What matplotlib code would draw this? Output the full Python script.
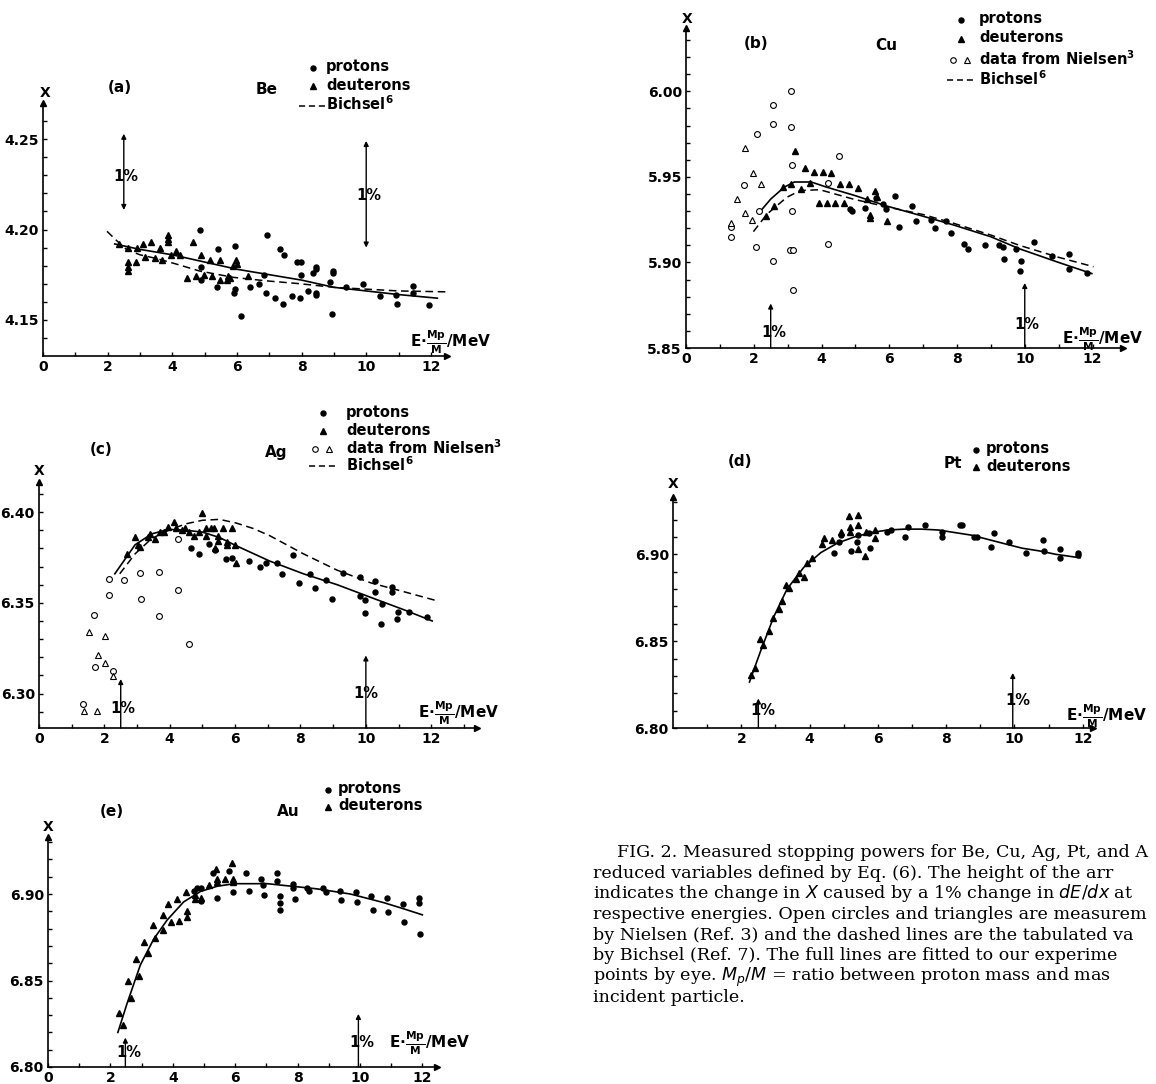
import matplotlib.pyplot as plt
import numpy as np
from matplotlib.lines import Line2D

W, H = 1156, 1084

# ---- (a) Be ----
be_prot_e = [4.85, 5.42, 5.93, 6.93, 7.33, 7.46, 7.87, 7.98, 8.46, 8.46, 8.96, 8.96, 7.97, 8.36,
             6.83, 4.88, 4.88, 5.37, 5.91, 5.94, 6.40, 6.67, 6.91, 7.18, 7.43, 7.69, 7.95, 8.20,
             8.44, 8.44, 8.87, 9.39, 9.91, 10.42, 10.92, 10.94, 11.45, 11.45, 11.95, 6.12, 8.95]
be_prot_x = [4.200, 4.189, 4.191, 4.197, 4.189, 4.186, 4.182, 4.182, 4.179, 4.178, 4.177, 4.176,
             4.175, 4.176, 4.175, 4.179, 4.172, 4.168, 4.165, 4.167, 4.168, 4.170, 4.165, 4.162,
             4.159, 4.163, 4.162, 4.166, 4.165, 4.164, 4.171, 4.168, 4.170, 4.163, 4.164, 4.159,
             4.169, 4.165, 4.158, 4.152, 4.153]
be_deut_e = [2.34, 2.63, 2.63, 2.63, 2.63, 2.87, 2.92, 3.10, 3.17, 3.35, 3.46, 3.61, 3.68, 3.87,
             3.87, 3.87, 3.97, 4.13, 4.23, 4.46, 4.65, 4.73, 4.90, 4.97, 5.16, 5.23, 5.47, 5.47,
             5.68, 5.73, 5.78, 5.88, 5.98, 6.00, 6.35]
be_deut_x = [4.192, 4.190, 4.182, 4.179, 4.177, 4.182, 4.190, 4.192, 4.185, 4.193, 4.184, 4.190,
             4.183, 4.197, 4.195, 4.193, 4.186, 4.188, 4.186, 4.173, 4.193, 4.174, 4.186, 4.175,
             4.183, 4.174, 4.183, 4.172, 4.172, 4.174, 4.173, 4.180, 4.183, 4.181, 4.174]
be_fit_e = [2.22, 3.0, 4.0, 5.0, 6.0, 7.0, 8.0, 9.0, 10.0, 11.0, 12.2]
be_fit_x = [4.192, 4.189, 4.186, 4.182, 4.178, 4.175, 4.172, 4.168, 4.166, 4.164, 4.162]
be_bich_e = [1.98, 2.27, 2.58, 3.0, 3.5, 4.1, 4.85, 5.9, 6.9, 7.95, 9.0, 10.0, 11.0, 12.5]
be_bich_x = [4.199, 4.194, 4.189, 4.186, 4.184, 4.181, 4.177, 4.1735, 4.1716, 4.170, 4.168,
             4.167, 4.166, 4.1655]

# ---- (b) Cu ----
cu_prot_e = [4.84, 4.91, 5.28, 5.60, 5.82, 5.89, 6.16, 6.29, 6.67, 6.80, 7.22, 7.34, 7.68, 7.83,
             8.20, 8.32, 8.84, 9.25, 9.35, 9.38, 9.75, 9.89, 9.87, 10.28, 10.80, 11.31, 11.30, 11.85]
cu_prot_x = [5.9315, 5.930, 5.932, 5.9375, 5.934, 5.9315, 5.939, 5.921, 5.933, 5.924, 5.925,
             5.920, 5.924, 5.917, 5.911, 5.908, 5.910, 5.910, 5.909, 5.902, 5.908, 5.901, 5.895,
             5.912, 5.904, 5.905, 5.896, 5.894]
cu_deut_e = [2.36, 2.60, 2.86, 3.10, 3.22, 3.40, 3.52, 3.66, 3.79, 3.93, 4.03, 4.15, 4.28, 4.40,
             4.56, 4.66, 4.82, 5.08, 5.34, 5.44, 5.44, 5.59, 5.65, 5.93]
cu_deut_x = [5.927, 5.933, 5.944, 5.946, 5.965, 5.943, 5.955, 5.9465, 5.953, 5.935, 5.953, 5.935,
             5.952, 5.935, 5.946, 5.935, 5.946, 5.9435, 5.937, 5.928, 5.926, 5.942, 5.938, 5.924]
cu_niel_circ_e = [1.34, 1.34, 1.70, 2.09, 2.07, 2.16, 2.58, 2.58, 2.58, 3.10, 3.09, 3.14, 3.13,
                  3.07, 3.17, 3.17, 4.18, 4.18, 4.52]
cu_niel_circ_x = [5.921, 5.915, 5.945, 5.975, 5.909, 5.930, 5.992, 5.981, 5.901, 6.000, 5.979,
                  5.957, 5.930, 5.907, 5.907, 5.884, 5.9465, 5.911, 5.962]
cu_niel_tri_e = [1.34, 1.52, 1.75, 1.73, 1.97, 1.95, 2.22]
cu_niel_tri_x = [5.923, 5.937, 5.967, 5.929, 5.952, 5.925, 5.946]
cu_fit_e = [2.2, 2.5, 2.9, 3.2, 3.7, 4.15, 5.0, 5.92, 7.0, 7.88, 9.0, 9.84, 11.0, 11.98]
cu_fit_x = [5.930, 5.937, 5.944, 5.947, 5.947, 5.944, 5.939, 5.933, 5.927, 5.922, 5.915, 5.908,
            5.900, 5.8935]
cu_bich_e = [1.99, 2.38, 2.97, 3.37, 3.95, 4.94, 5.92, 7.0, 7.88, 9.0, 9.84, 11.0, 12.03]
cu_bich_x = [5.918, 5.928, 5.938, 5.942, 5.9425, 5.937, 5.9325, 5.928, 5.923, 5.916, 5.910,
             5.903, 5.8975]

# ---- (c) Ag ----
ag_prot_e = [4.64, 4.88, 5.21, 5.39, 5.72, 5.91, 6.42, 6.75, 6.96, 7.27, 7.44, 7.76, 7.94, 8.30,
             8.45, 8.78, 8.97, 9.30, 9.81, 9.81, 9.98, 9.98, 10.29, 10.29, 10.48, 10.46, 10.80,
             10.80, 10.98, 10.96, 11.32, 11.86]
ag_prot_x = [6.380, 6.377, 6.3825, 6.379, 6.374, 6.3745, 6.373, 6.3695, 6.372, 6.372, 6.366,
             6.3765, 6.361, 6.366, 6.358, 6.3625, 6.352, 6.3665, 6.3645, 6.354, 6.3515, 6.3445,
             6.362, 6.356, 6.3495, 6.3385, 6.3585, 6.356, 6.345, 6.341, 6.345, 6.342]
ag_deut_e = [2.68, 2.94, 3.04, 3.09, 3.32, 3.41, 3.56, 3.71, 3.81, 3.94, 4.12, 4.20, 4.38, 4.48,
             4.59, 4.74, 4.90, 4.98, 5.10, 5.10, 5.26, 5.36, 5.39, 5.49, 5.49, 5.62, 5.74, 5.75,
             5.89, 6.01, 6.03]
ag_deut_x = [6.377, 6.3865, 6.382, 6.3805, 6.3865, 6.388, 6.385, 6.389, 6.389, 6.392, 6.3945,
             6.3915, 6.390, 6.3915, 6.389, 6.387, 6.389, 6.3995, 6.387, 6.3915, 6.391, 6.391,
             6.380, 6.387, 6.384, 6.391, 6.382, 6.3835, 6.391, 6.382, 6.372]
ag_niel_circ_e = [1.35, 1.68, 1.70, 2.13, 2.13, 2.27, 2.60, 3.09, 3.12, 3.66, 3.66, 4.26, 4.26,
                  4.59]
ag_niel_circ_x = [6.2945, 6.3435, 6.3145, 6.363, 6.3545, 6.3125, 6.3625, 6.3665, 6.352, 6.367,
                  6.343, 6.385, 6.357, 6.3275]
ag_niel_tri_e = [1.39, 1.53, 1.77, 1.82, 2.01, 2.03, 2.27]
ag_niel_tri_x = [6.2905, 6.334, 6.2905, 6.3215, 6.3315, 6.317, 6.3095]
ag_fit_e = [2.32, 2.94, 3.45, 3.97, 4.48, 5.0, 5.52, 6.03, 7.06, 8.09, 9.12, 10.15, 11.19, 12.03]
ag_fit_x = [6.366, 6.382, 6.388, 6.3905, 6.390, 6.389, 6.386, 6.3815, 6.373, 6.366, 6.360,
            6.353, 6.346, 6.340]
ag_bich_e = [2.47, 2.94, 3.45, 3.97, 4.48, 5.0, 5.52, 6.03, 6.55, 7.06, 8.09, 9.12, 10.15, 11.19,
             12.2]
ag_bich_x = [6.366, 6.377, 6.3855, 6.390, 6.3935, 6.3955, 6.396, 6.394, 6.391, 6.387, 6.377,
             6.368, 6.361, 6.356, 6.351]

# ---- (d) Pt ----
pt_prot_e = [4.72, 4.87, 4.92, 5.21, 5.38, 5.41, 5.77, 5.75, 6.26, 6.37, 6.78, 6.88, 7.37, 7.89,
             7.89, 8.41, 8.46, 8.82, 8.90, 9.32, 9.39, 9.83, 10.35, 10.85, 10.87, 11.34, 11.34,
             11.85, 11.85]
pt_prot_x = [6.9005, 6.907, 6.911, 6.902, 6.907, 6.911, 6.9035, 6.912, 6.913, 6.914, 6.910,
             6.916, 6.917, 6.910, 6.913, 6.917, 6.917, 6.910, 6.910, 6.9045, 6.912, 6.907, 6.9005,
             6.908, 6.902, 6.903, 6.898, 6.9005, 6.8995]
pt_deut_e = [2.29, 2.40, 2.56, 2.65, 2.80, 2.92, 3.09, 3.19, 3.32, 3.41, 3.59, 3.69, 3.84, 3.91,
             4.08, 4.36, 4.41, 4.67, 4.92, 5.14, 5.19, 5.19, 5.41, 5.43, 5.41, 5.65, 5.63, 5.92,
             5.92]
pt_deut_x = [6.8305, 6.8345, 6.851, 6.848, 6.856, 6.8635, 6.8685, 6.873, 6.8825, 6.8805, 6.8855,
             6.889, 6.887, 6.895, 6.898, 6.906, 6.9095, 6.9085, 6.913, 6.922, 6.916, 6.913, 6.9225,
             6.917, 6.903, 6.913, 6.899, 6.914, 6.9095]
pt_fit_e = [2.24, 2.56, 2.95, 3.34, 3.83, 4.33, 4.82, 5.31, 5.80, 6.29, 6.78, 7.28, 7.77, 8.26,
            8.75, 9.24, 9.73, 10.23, 10.72, 11.21, 11.92]
pt_fit_x = [6.8265, 6.844, 6.864, 6.880, 6.8925, 6.901, 6.9065, 6.910, 6.9125, 6.914, 6.9145,
            6.9145, 6.914, 6.9125, 6.911, 6.9085, 6.906, 6.9035, 6.902, 6.900, 6.898]

# ---- (e) Au ----
au_prot_e = [4.67, 4.78, 4.89, 4.92, 5.28, 5.42, 5.81, 5.93, 6.35, 6.45, 6.84, 6.89, 6.94, 7.33,
             7.33, 7.43, 7.43, 7.43, 7.85, 7.85, 7.91, 8.31, 8.36, 8.82, 8.90, 9.35, 9.38, 9.86,
             9.91, 10.36, 10.42, 10.88, 10.90, 11.39, 11.41, 11.89, 11.89, 11.92]
au_prot_x = [6.902, 6.9035, 6.896, 6.9035, 6.912, 6.898, 6.9135, 6.901, 6.912, 6.902, 6.9085,
             6.905, 6.8995, 6.912, 6.9075, 6.899, 6.895, 6.891, 6.906, 6.9035, 6.897, 6.9035,
             6.902, 6.9035, 6.901, 6.902, 6.8965, 6.901, 6.8955, 6.899, 6.8905, 6.898, 6.8895,
             6.8945, 6.884, 6.898, 6.895, 6.877]
au_deut_e = [2.29, 2.39, 2.56, 2.67, 2.82, 2.93, 3.07, 3.20, 3.35, 3.44, 3.68, 3.69, 3.85, 3.95,
             4.12, 4.21, 4.41, 4.44, 4.44, 4.70, 4.71, 4.92, 5.16, 5.37, 5.42, 5.42, 5.67, 5.90,
             5.94, 5.94]
au_deut_x = [6.831, 6.8245, 6.8495, 6.840, 6.8625, 6.8525, 6.8725, 6.866, 6.882, 6.8745, 6.888,
             6.8795, 6.8945, 6.884, 6.897, 6.8845, 6.901, 6.890, 6.887, 6.897, 6.8995, 6.898,
             6.905, 6.9145, 6.909, 6.907, 6.909, 6.918, 6.909, 6.907]
au_fit_e = [2.24, 2.53, 2.96, 3.39, 3.82, 4.35, 4.89, 5.42, 5.96, 6.49, 7.03, 7.56, 8.10, 8.63,
            9.17, 9.70, 10.24, 10.77, 11.31, 12.0]
au_fit_x = [6.820, 6.8365, 6.859, 6.874, 6.885, 6.8955, 6.9015, 6.9045, 6.906, 6.906, 6.906,
            6.905, 6.904, 6.903, 6.9015, 6.900, 6.8975, 6.895, 6.892, 6.888]

caption_lines = [
    "FIG. 2. Measured stopping powers for Be, Cu, Ag, Pt, and A",
    "reduced variables defined by Eq. (6). The height of the arr",
    r"indicates the change in $\mathit{X}$ caused by a 1% change in $\mathit{dE/dx}$ at",
    "respective energies. Open circles and triangles are measurem",
    "by Nielsen (Ref. 3) and the dashed lines are the tabulated va",
    "by Bichsel (Ref. 7). The full lines are fitted to our experime",
    r"points by eye. $\mathit{M_p/M}$ = ratio between proton mass and mas",
    "incident particle.",
]

plt.rcParams['font.family'] = 'DejaVu Sans'
plt.rcParams['mathtext.default'] = 'regular'

fig = plt.figure(figsize=(W / 100, H / 100), dpi=100)
fig.patch.set_facecolor('white')

XLAB = r"E$\cdot\frac{Mp}{M}$/MeV"


def fx(x):
    return x / W


def fy(y):
    return 1 - y / H


def make_axes(left, top, right, bottom, xlim, ylim, yticks, xticks):
    ax = fig.add_axes([fx(left), fy(bottom), (right - left) / W, (bottom - top) / H])
    ax.set_xlim(*xlim)
    ax.set_ylim(*ylim)
    ax.spines[['top', 'right']].set_visible(False)
    ax.spines[['left', 'bottom']].set_linewidth(1.2)
    ax.set_xticks(xticks)
    ax.set_xticklabels([str(t) for t in xticks], fontweight='bold')
    ax.set_xticks(np.arange(1, int(xlim[1]) + 1), minor=True)
    ax.set_yticks(yticks)
    ax.set_yticklabels([f"{t:.2f}" for t in yticks], fontweight='bold')
    ax.set_yticks(np.round(np.arange(ylim[0], ylim[1], 0.01), 2)[1:], minor=True)
    ax.tick_params(which='both', direction='in', length=3, width=1, labelsize=10, pad=3)
    ax.plot(1, 0, '>', color='k', ms=4, transform=ax.transAxes, clip_on=False)
    ax.plot(0, 1, '^', color='k', ms=4, transform=ax.transAxes, clip_on=False)
    ax.patch.set_alpha(0)
    return ax


def points(ax, e, x, kind):
    if kind == 'p':
        ax.plot(e, x, 'o', color='k', ms=3.6, ls='none', clip_on=False)
    elif kind == 'd':
        ax.plot(e, x, '^', color='k', ms=4.3, ls='none', clip_on=False)
    elif kind == 'nc':
        ax.plot(e, x, 'o', mfc='white', mec='k', mew=0.8, ms=4.2, ls='none', clip_on=False)
    else:
        ax.plot(e, x, '^', mfc='white', mec='k', mew=0.8, ms=4.4, ls='none', clip_on=False)


def arrow(ax, e, y0, y1, both=False):
    ax.annotate('', xy=(e, y1), xytext=(e, y0),
                arrowprops=dict(arrowstyle='<|-|>' if both else '-|>', color='k', lw=1.0,
                                mutation_scale=7, shrinkA=0, shrinkB=0))


def pct(ax, e, y):
    ax.text(e, y, "1%", ha='center', va='center', fontsize=10.5, fontweight='bold')


def legend_item(x, y, kind):
    if kind == 'p':
        fig.add_artist(Line2D([fx(x)], [fy(y)], marker='o', color='k', ms=3.6,
                              transform=fig.transFigure))
    elif kind == 'd':
        fig.add_artist(Line2D([fx(x)], [fy(y)], marker='^', color='k', ms=4.3,
                              transform=fig.transFigure))
    elif kind == 'n':
        fig.add_artist(Line2D([fx(x - 8)], [fy(y)], marker='o', mfc='white', mec='k', mew=0.8,
                              ms=4, transform=fig.transFigure))
        fig.add_artist(Line2D([fx(x + 6)], [fy(y)], marker='^', mfc='white', mec='k', mew=0.8,
                              ms=4.2, transform=fig.transFigure))
    else:
        fig.add_artist(Line2D([fx(x - 14), fx(x + 14)], [fy(y), fy(y)], color='k', lw=1.1,
                              ls=(0, (4, 2.5)), transform=fig.transFigure))


def ftext(x, y, s, size=10.5, ha='left'):
    fig.text(fx(x), fy(y), s, ha=ha, va='center', fontsize=size, fontweight='bold')


# (a) Be
ax = make_axes(43, 103, 447, 356, (0, 12.5), (4.13, 4.27), [4.15, 4.20, 4.25],
               [0, 2, 4, 6, 8, 10, 12])
ax.plot(be_bich_e, be_bich_x, color='k', lw=1.1, ls=(0, (5, 3)))
ax.plot(be_fit_e, be_fit_x, color='k', lw=1.2)
points(ax, be_prot_e, be_prot_x, 'p')
points(ax, be_deut_e, be_deut_x, 'd')
arrow(ax, 2.5, 4.2108, 4.253, both=True)
arrow(ax, 10.0, 4.190, 4.249, both=True)
pct(ax, 2.55, 4.2295)
pct(ax, 10.08, 4.219)
ftext(410, 342, XLAB, 11)
ftext(45, 93, "X", 10, 'center')
ftext(108, 88, "(a)", 11)
ftext(256, 90, "Be", 11)
legend_item(313, 68, 'p')
ftext(326, 67, "protons")
legend_item(313, 86, 'd')
ftext(326, 86, "deuterons")
legend_item(313, 106, 'b')
ftext(326, 104, "Bichsel$^{6}$")

# (b) Cu
ax = make_axes(686, 28, 1123, 348, (0, 12.9), (5.85, 6.037), [5.85, 5.90, 5.95, 6.00],
               [0, 2, 4, 6, 8, 10, 12])
ax.plot(cu_bich_e, cu_bich_x, color='k', lw=1.1, ls=(0, (5, 3)))
ax.plot(cu_fit_e, cu_fit_x, color='k', lw=1.2)
points(ax, cu_niel_circ_e, cu_niel_circ_x, 'nc')
points(ax, cu_niel_tri_e, cu_niel_tri_x, 'nt')
points(ax, cu_prot_e, cu_prot_x, 'p')
points(ax, cu_deut_e, cu_deut_x, 'd')
arrow(ax, 2.5, 5.85, 5.876)
arrow(ax, 10.0, 5.85, 5.888)
pct(ax, 2.6, 5.859)
pct(ax, 10.05, 5.864)
ftext(1062, 339, XLAB, 11)
ftext(687, 19, "X", 10, 'center')
ftext(744, 44, "(b)", 11)
ftext(875, 45, "Cu", 11)
legend_item(961, 20, 'p')
ftext(979, 19, "protons")
legend_item(961, 39, 'd')
ftext(979, 38, "deuterons")
legend_item(961, 60, 'n')
ftext(979, 59, "data from Nielsen$^{3}$")
legend_item(961, 80, 'b')
ftext(979, 79, "Bichsel$^{6}$")

# (c) Ag
ax = make_axes(39, 482, 477, 728, (0, 13.4), (6.281, 6.4166), [6.30, 6.35, 6.40],
               [0, 2, 4, 6, 8, 10, 12])
ax.plot(ag_bich_e, ag_bich_x, color='k', lw=1.1, ls=(0, (5, 3)))
ax.plot(ag_fit_e, ag_fit_x, color='k', lw=1.2)
points(ax, ag_niel_circ_e, ag_niel_circ_x, 'nc')
points(ax, ag_niel_tri_e, ag_niel_tri_x, 'nt')
points(ax, ag_prot_e, ag_prot_x, 'p')
points(ax, ag_deut_e, ag_deut_x, 'd')
arrow(ax, 2.5, 6.281, 6.308)
arrow(ax, 10.0, 6.281, 6.321)
pct(ax, 2.55, 6.292)
pct(ax, 10.0, 6.300)
ftext(418, 713, XLAB, 11)
ftext(39, 471, "X", 10, 'center')
ftext(90, 450, "(c)", 11)
ftext(265, 452, "Ag", 11)
legend_item(323, 413, 'p')
ftext(346, 412, "protons")
legend_item(323, 431, 'd')
ftext(346, 430, "deuterons")
legend_item(323, 449, 'n')
ftext(346, 448, "data from Nielsen$^{3}$")
legend_item(323, 466, 'b')
ftext(346, 465, "Bichsel$^{6}$")

# (d) Pt
ax = make_axes(673, 497, 1093, 728, (0, 12.3), (6.80, 6.933), [6.80, 6.85, 6.90],
               [2, 4, 6, 8, 10, 12])
ax.plot(pt_fit_e, pt_fit_x, color='k', lw=1.2)
points(ax, pt_prot_e, pt_prot_x, 'p')
points(ax, pt_deut_e, pt_deut_x, 'd')
arrow(ax, 2.5, 6.80, 6.817)
arrow(ax, 9.95, 6.80, 6.8317)
pct(ax, 2.62, 6.810)
pct(ax, 10.1, 6.816)
ftext(1066, 716, XLAB, 11)
ftext(673, 484, "X", 10, 'center')
ftext(728, 462, "(d)", 11)
ftext(944, 464, "Pt", 11)
legend_item(976, 450, 'p')
ftext(986, 449, "protons")
legend_item(976, 467, 'd')
ftext(986, 466, "deuterons")

# (e) Au
ax = make_axes(48, 837, 437, 1067, (0, 12.47), (6.80, 6.933), [6.80, 6.85, 6.90],
               [0, 2, 4, 6, 8, 10, 12])
ax.plot(au_fit_e, au_fit_x, color='k', lw=1.2)
points(ax, au_prot_e, au_prot_x, 'p')
points(ax, au_deut_e, au_deut_x, 'd')
arrow(ax, 2.48, 6.80, 6.817)
arrow(ax, 9.95, 6.80, 6.8307)
pct(ax, 2.6, 6.8085)
pct(ax, 10.05, 6.8143)
ftext(389, 1043, XLAB, 11)
ftext(48, 827, "X", 10, 'center')
ftext(100, 812, "(e)", 11)
ftext(277, 812, "Au", 11)
legend_item(328, 790, 'p')
ftext(338, 789, "protons")
legend_item(328, 807, 'd')
ftext(338, 806, "deuterons")

# caption
for i, line in enumerate(caption_lines):
    x0 = 617 if i == 0 else 593
    fig.text(fx(x0), fy(857 + 20.7 * i), line, ha='left', va='baseline',
             fontsize=12.6, family='DejaVu Serif')

fig.savefig('out.png', dpi=100, facecolor='white')
